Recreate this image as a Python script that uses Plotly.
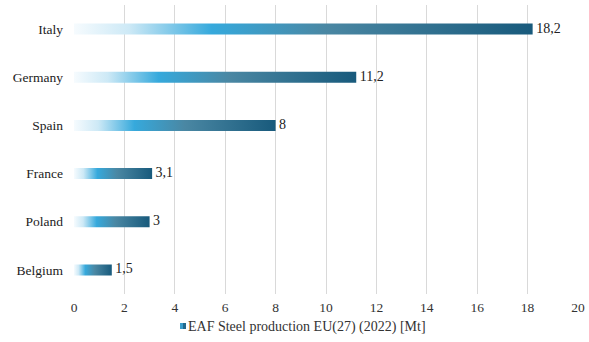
import plotly.graph_objects as go

countries = ["Italy", "Germany", "Spain", "France", "Poland", "Belgium"]
values = [18.2, 11.2, 8, 3.1, 3, 1.5]
x_ticks = [0, 2, 4, 6, 8, 10, 12, 14, 16, 18, 20]
series_name = "EAF Steel production EU(27) (2022) [Mt]"

FONT = "Times New Roman, Liberation Serif, DejaVu Serif, serif"
colorscale = [[0.0, "#f6fbfe"], [0.12, "#cde9f6"], [0.3, "#36a9dc"],
              [0.55, "#4a87a3"], [1.0, "#185a7c"]]

W, H = 589, 342
ML, MR, MT, MB = 74, 11, 5, 48
PW, PH = W - ML - MR, H - MT - MB
n = len(countries)
pos = [n - 1 - i for i in range(n)]
half = 0.115

fig = go.Figure()
for i, (c, v) in enumerate(zip(countries, values)):
    y0 = pos[i] - half
    y1 = pos[i] + half
    fig.add_trace(go.Scatter(
        x=[0, v, v, 0, 0], y=[y0, y0, y1, y1, y0],
        mode="lines", fill="toself", line=dict(width=0),
        fillgradient=dict(type="horizontal", colorscale=colorscale),
        name=series_name, showlegend=False, hoverinfo="skip",
    ))

# legend entry (text only; the small swatch is drawn next to it)
fig.add_trace(go.Scatter(
    x=[None], y=[None], mode="markers", name=series_name,
    marker=dict(symbol="square", size=6, color="rgba(0,0,0,0)"),
    showlegend=True,
))

labels = [" " + (f"{v:g}").replace(".", ",") for v in values]
fig.add_trace(go.Scatter(
    x=values, y=pos, mode="text", text=labels, textposition="middle right",
    textfont=dict(family=FONT, size=14, color="#222"), showlegend=False,
    hoverinfo="skip",
))


def px_to_paper_x(px):
    return (px - ML) / PW


def px_to_paper_y(py):
    return (H - MB - py) / PH


# legend swatch next to the legend text, split in two tones
sx0, sx1, sy0, sy1 = 180, 186, 323, 329
smid = (sx0 + sx1) / 2
for a, b, col in [(sx0, smid, "#3a9dcc"), (smid, sx1, "#22698e")]:
    fig.add_shape(type="rect", xref="paper", yref="paper", layer="above",
                  x0=px_to_paper_x(a), x1=px_to_paper_x(b),
                  y0=px_to_paper_y(sy1), y1=px_to_paper_y(sy0),
                  fillcolor=col, line=dict(width=0))

fig.update_layout(
    width=W, height=H,
    margin=dict(l=ML, r=MR, t=MT, b=MB),
    plot_bgcolor="white", paper_bgcolor="white",
    font=dict(family=FONT, size=14, color="#333"),
    showlegend=True,
    legend=dict(orientation="h", xref="container", x=148 / W, xanchor="left",
                yref="container", y=0, yanchor="bottom",
                font=dict(family=FONT, size=14, color="#333"),
                itemwidth=30, tracegroupgap=0, bgcolor="rgba(0,0,0,0)"),
)
fig.update_xaxes(range=[0, 20], tickvals=x_ticks, showgrid=True, gridcolor="#d9d9d9",
                 gridwidth=1, zeroline=False, showline=False, ticks="",
                 ticklabelstandoff=3, automargin=False,
                 tickfont=dict(family=FONT, size=13.5, color="#333"))
fig.update_yaxes(range=[-0.5, n - 0.5], tickvals=pos, ticktext=countries,
                 showgrid=False, zeroline=False, showline=False,
                 ticklabelstandoff=10, automargin=False,
                 tickfont=dict(family=FONT, size=13.5, color="#222"))

fig.write_html("out.html")
